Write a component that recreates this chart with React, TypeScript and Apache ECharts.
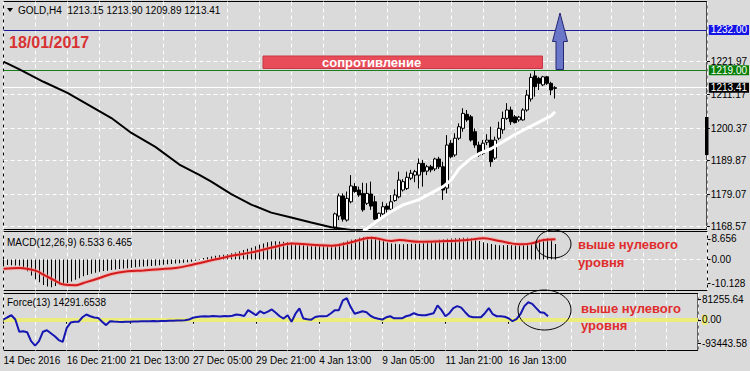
import React, { useEffect, useRef } from "react";
import * as echarts from "echarts";

// ---------- data ----------
const SLOT_COUNT = 177;
const categories = Array.from({ length: SLOT_COUNT }, (_, i) => String(i));
const dateLabels = ["14 Dec 2016", "16 Dec 21:00", "21 Dec 13:00", "27 Dec 05:00", "29 Dec 21:00", "4 Jan 13:00", "9 Jan 05:00", "11 Jan 21:00", "16 Jan 13:00"];
const LABEL_STEP = 16;
const GRID_STEP = 8;

const priceTicks = [1168.57, 1179.07, 1189.87, 1200.37, 1211.17, 1221.97];
const macdTicks = [8.656, 0, -10.128];
const macdTickText = ["8.656", "0.00", "-10.128"];
const forceTicks = [81255.64, 0, -93443.58];
const forceTickText = ["81255.64", "0.00", "-93443.58"];

const targetLevel = 1232.0;
const resistanceLevel = 1219.0;
const lastClose = 1213.41;

const firstCandle = 83;
const candleOpen = [1168.4, 1172.0, 1178.5, 1170.7, 1176.6, 1181.5, 1180.4, 1179.3, 1176.1, 1179.1, 1176.6, 1171.0, 1172.7, 1175.2, 1174.2, 1177.0, 1178.2, 1180.4, 1180.9, 1184.2, 1185.2, 1185.2, 1189.0, 1186.5, 1187.9, 1187.2, 1190.4, 1187.9, 1181.0, 1195.5, 1191.7, 1197.1, 1200.3, 1204.8, 1204.0, 1199.2, 1194.9, 1192.2, 1195.8, 1196.5, 1190.7, 1197.1, 1199.8, 1203.5, 1206.2, 1204.0, 1203.0, 1203.0, 1206.2, 1209.75, 1217.2, 1216.4, 1214.3, 1216.9, 1214.8, 1213.15];
const candleHigh = [1173.1, 1179.3, 1179.3, 1179.9, 1185.2, 1182.6, 1181.5, 1182.75, 1182.6, 1183.1, 1178.5, 1173.1, 1176.6, 1176.1, 1178.8, 1180.6, 1186.3, 1183.9, 1186.3, 1186.9, 1186.9, 1190.6, 1190.1, 1188.5, 1188.5, 1190.8, 1191.1, 1189.5, 1198.1, 1196.5, 1198.7, 1201.9, 1206.75, 1206.2, 1204.6, 1200.3, 1196.0, 1196.5, 1198.4, 1200.8, 1197.6, 1202.4, 1205.7, 1208.4, 1207.3, 1204.6, 1204.3, 1206.75, 1212.65, 1218.0, 1218.9, 1216.9, 1217.2, 1217.2, 1215.3, 1213.9];
const candleLow = [1167.8, 1170.7, 1170.2, 1170.2, 1176.1, 1179.5, 1178.2, 1173.4, 1175.6, 1174.0, 1170.7, 1170.7, 1172.3, 1173.1, 1173.4, 1176.6, 1177.7, 1179.9, 1180.4, 1183.6, 1182.9, 1180.9, 1181.5, 1185.2, 1186.1, 1186.5, 1187.2, 1177.2, 1179.3, 1190.6, 1191.1, 1196.5, 1199.2, 1202.4, 1196.0, 1194.0, 1191.1, 1191.7, 1194.9, 1187.9, 1190.1, 1196.5, 1198.5, 1203.0, 1201.4, 1201.9, 1202.4, 1202.75, 1205.65, 1208.9, 1210.5, 1212.65, 1213.9, 1214.3, 1211.0, 1209.89];
const candleClose = [1172.7, 1178.5, 1171.0, 1177.7, 1181.7, 1179.9, 1178.8, 1174.0, 1179.3, 1175.2, 1171.0, 1172.9, 1175.0, 1174.2, 1176.6, 1178.8, 1183.6, 1183.1, 1184.5, 1185.8, 1186.3, 1189.0, 1186.3, 1187.9, 1186.9, 1190.4, 1187.9, 1180.4, 1194.9, 1191.1, 1197.1, 1200.8, 1205.1, 1203.0, 1196.5, 1194.9, 1191.7, 1195.5, 1196.5, 1189.5, 1196.5, 1200.3, 1203.5, 1206.2, 1202.4, 1202.1, 1203.9, 1206.2, 1211.0, 1216.7, 1213.7, 1214.8, 1216.9, 1214.8, 1212.65, 1213.41];

const maSlow = [[0, 1221.8], [4, 1219.3], [10, 1215.3], [16, 1211.7], [22, 1207.3], [27, 1203.6], [32, 1198.8], [38, 1194.3], [44, 1188.6], [49, 1185.3], [52, 1183.1], [57, 1179.1], [62, 1175.7], [67, 1173.1], [72, 1171.5], [77, 1169.9], [82, 1168.4], [86, 1167.7], [90, 1167.0]];
const maFast = [[90, 1167.4], [91, 1168.0], [94, 1170.9], [97, 1173.5], [100, 1175.6], [104, 1177.3], [107, 1179.4], [110, 1181.5], [112, 1183.6], [114, 1187.3], [117, 1190.6], [119, 1192.1], [122, 1193.7], [125, 1196.0], [128, 1198.3], [131, 1200.3], [134, 1202.3], [137, 1204.3], [138, 1205.6]];

const macdMain = [
  -2.3, -2.3, -2.4, -2.5, -2.6, -3.5, -5.0, -6.8, -8.3, -9.6,
  -10.8, -11.4, -11.7, -11.2, -10.6, -10.2, -9.9, -9.3, -8.6, -7.9,
  -7.1, -6.5, -6.0, -5.6, -5.2, -4.9, -4.7, -4.4, -4.2, -4.0,
  -3.8, -3.7, -3.5, -3.3, -3.1, -3.0, -2.9, -2.7, -2.6, -2.4,
  -2.2, -2.0, -1.9, -1.7, -1.6, -1.4, -1.2, -0.9, -0.5, 0.2,
  0.6, 1.0, 1.3, 1.6, 1.8, 2.0, 2.2, 2.6, 3.0, 3.5,
  4.0, 4.5, 5.0, 5.6, 6.2, 6.8, 7.3, 7.6, 7.7, 7.6,
  7.5, 7.4, 7.3, 7.0, 6.6, 6.2, 5.9, 5.8, 5.8, 5.9,
  6.0, 6.1, 6.1, 6.3, 6.8, 7.4, 7.9, 8.3, 8.7, 9.2,
  9.5, 9.6, 9.6, 9.5, 9.2, 8.0, 7.2, 6.8, 6.6, 6.4,
  6.4, 6.5, 6.6, 6.7, 6.8, 7.0, 7.3, 7.6, 7.9, 8.3,
  8.6, 8.8, 8.9, 9.0, 9.1, 9.2, 9.2, 9.0, 8.5, 7.8,
  7.3, 6.9, 6.5, 6.2, 6.0, 6.0, 6.1, 6.1, 6.0, 6.0,
  6.2, 6.6, 7.2, 7.8, 8.4, 8.8, 9.0, 8.6, 6.53,
];
const macdSignal = [[0, -3.9], [4, -3.6], [8, -4.7], [10, -6.4], [13, -9.0], [15, -10.6], [18, -10.9], [20, -9.9], [24, -7.8], [27, -6.1], [31, -5.0], [35, -4.6], [39, -4.1], [43, -3.6], [47, -2.3], [56, 1.2], [62, 3.0], [68, 5.4], [72, 6.8], [78, 6.1], [82, 5.8], [87, 7.3], [92, 9.2], [97, 7.8], [99, 8.2], [104, 7.5], [111, 7.8], [116, 8.2], [120, 9.0], [124, 7.8], [129, 6.4], [132, 6.8], [135, 8.2], [138, 8.5]];

const force13 = [
  1200, 10000, 18000, 1200, -47000, -45000, -49000, -84000, -102000, -84000,
  -47000, -41000, -53000, -65000, -80000, -87000, -33000, -11000, -8000, -8000,
  10000, 21000, 14000, 9000, 7500, -8000, -21000, -5500, -7000, -8000,
  -8500, -8000, -7500, -7000, -6500, -6000, -6000, -5500, -5000, -5500,
  -5000, -4500, -4000, -3500, -3000, -2500, -2000, 1000, 8000, 11000,
  13000, 14000, 13000, 15000, 14000, 13000, 15000, 14000, 16000, 21000,
  19000, 15000, 38000, 28000, 18000, 34000, 25000, 32000, 41000, 28000,
  14000, 5000, 18000, -8000, 24000, 45000, 5000, 2400, 400, 11000,
  14000, 14000, 15000, 26000, 38000, 38000, 77000, 85000, 50000, 24000,
  29000, 34000, 30000, 16000, 8000, 4000, 1000, 10000, 14000, 6000,
  6000, 6000, 14000, 18000, 26000, 20000, 18000, 18000, 22000, 26000,
  57000, 38000, 14000, 26000, 46000, 54000, 48000, 30000, 14000, 10000,
  10000, 10000, 26000, 46000, 22000, 14000, 14000, 12000, 6000, -5500,
  2400, 22000, 54000, 69000, 63000, 46000, 30000, 28000, 14291.65,
];

// ---------- helpers ----------
const FONT = "'Liberation Sans', Arial, sans-serif";
const BG = "#dadada";
const labelInterval = (idx: number) => idx % LABEL_STEP === 0 && idx / LABEL_STEP < dateLabels.length;
const gridInterval = (idx: number) => idx % GRID_STEP === 0;
const dashed = { color: "#ffffff", type: [4, 3], width: 1 };

function xAxisFor(gridIndex: number, withLabels: boolean) {
  return {
    type: "category",
    gridIndex,
    data: categories,
    boundaryGap: false,
    axisLine: { show: false },
    axisTick: withLabels
      ? { show: true, interval: labelInterval, length: 4, lineStyle: { color: "#000" } }
      : { show: false },
    axisLabel: withLabels
      ? {
          show: true,
          interval: labelInterval,
          formatter: (_v: string, idx: number) => dateLabels[idx / LABEL_STEP] || "",
          align: "left",
          color: "#000",
          fontSize: 10,
          fontFamily: FONT,
          margin: 5,
        }
      : { show: false },
    splitLine: { show: true, interval: gridInterval, lineStyle: dashed },
  };
}

function buildOption() {
  const candleData = candleOpen.map((o, k) => [firstCandle + k, o, candleClose[k], candleLow[k], candleHigh[k]]);
  const levelLabel = (bg: string) => ({
    show: true,
    position: "end",
    distance: 2,
    backgroundColor: bg,
    color: "#fff",
    fontSize: 10,
    lineHeight: 10,
    fontFamily: FONT,
    padding: [0, 2, 0, 2],
  });
  const GL = 3.5;
  const GW = 704;

  return {
    animation: false,
    backgroundColor: BG,
    textStyle: { fontFamily: FONT },
    grid: [
      { left: GL, top: 1.5, width: GW, height: 228, show: true, borderColor: "#000", borderWidth: 1, backgroundColor: "transparent" },
      { left: GL, top: 231.5, width: GW, height: 59, show: true, borderColor: "#000", borderWidth: 1, backgroundColor: "transparent" },
      { left: GL, top: 293.5, width: GW, height: 57, show: true, borderColor: "#000", borderWidth: 1, backgroundColor: "transparent" },
    ],
    xAxis: [xAxisFor(0, false), xAxisFor(1, false), xAxisFor(2, true)],
    yAxis: [
      {
        type: "value", gridIndex: 0, position: "right", min: 1167.66, max: 1241.19,
        axisLine: { show: false }, splitLine: { show: false },
        axisTick: { show: true, customValues: priceTicks, length: 3, lineStyle: { color: "#000" } },
        axisLabel: { show: true, customValues: priceTicks, formatter: (v: number) => v.toFixed(2), color: "#000", fontSize: 10, fontFamily: FONT, margin: 4 },
      },
      {
        type: "value", gridIndex: 1, position: "right", min: -13.09, max: 11.82,
        axisLine: { show: false }, splitLine: { show: false },
        axisTick: { show: true, customValues: macdTicks, length: 3, lineStyle: { color: "#000" } },
        axisLabel: { show: true, customValues: macdTicks, formatter: (v: number) => macdTickText[macdTicks.indexOf(v)] ?? "", color: "#000", fontSize: 10, fontFamily: FONT, margin: 4 },
      },
      {
        type: "value", gridIndex: 2, position: "right", min: -121069, max: 103717,
        axisLine: { show: false }, splitLine: { show: false },
        axisTick: { show: true, customValues: forceTicks, length: 3, lineStyle: { color: "#000" } },
        axisLabel: {
          show: true, customValues: forceTicks,
          formatter: (v: number) => (v === 0 ? "{z|0}{n|.00}" : forceTickText[forceTicks.indexOf(v)] ?? ""),
          color: "#000", fontSize: 10, fontFamily: FONT, margin: 4,
          rich: { z: { backgroundColor: "#ecec70", color: "#000", fontSize: 10, fontFamily: FONT }, n: { color: "#000", fontSize: 10, fontFamily: FONT } },
        },
      },
    ],
    series: [
      {
        type: "candlestick",
        xAxisIndex: 0, yAxisIndex: 0,
        data: candleData,
        encode: { x: 0, y: [1, 2, 3, 4] },
        barWidth: 3,
        z: 2,
        itemStyle: { color: "#ffffff", color0: "#000000", borderColor: "#000000", borderColor0: "#000000", borderWidth: 1 },
        markLine: {
          silent: true, symbol: ["none", "none"], z: 1, animation: false,
          data: [
            ...priceTicks.map((v) => ({ yAxis: v, lineStyle: dashed, label: { show: false } })),
            { yAxis: targetLevel, lineStyle: { color: "#1c1c9c", width: 1, type: "solid" }, label: { ...levelLabel("#1414e6"), formatter: targetLevel.toFixed(2) } },
            { yAxis: resistanceLevel, lineStyle: { color: "#1a7d1a", width: 1, type: "solid" }, label: { ...levelLabel("#088008"), formatter: resistanceLevel.toFixed(2) } },
            { yAxis: lastClose, lineStyle: { color: "#ffffff", width: 1, type: "solid" }, label: { ...levelLabel("#000000"), formatter: lastClose.toFixed(2) } },
          ],
        },
      },
      { type: "line", xAxisIndex: 0, yAxisIndex: 0, data: maSlow, symbol: "none", z: 3, lineStyle: { color: "#000", width: 2 } },
      { type: "line", xAxisIndex: 0, yAxisIndex: 0, data: maFast, symbol: "none", z: 3, lineStyle: { color: "#ffffff", width: 3 } },
      {
        type: "bar", xAxisIndex: 1, yAxisIndex: 1, data: macdMain, barWidth: 1, z: 2,
        itemStyle: { color: "#000", borderWidth: 0 },
        markLine: { silent: true, symbol: ["none", "none"], z: 1, data: [{ yAxis: 0, lineStyle: dashed, label: { show: false } }] },
      },
      { type: "line", xAxisIndex: 1, yAxisIndex: 1, data: macdSignal, symbol: "none", smooth: 0.4, z: 3, lineStyle: { color: "rgba(255,150,150,0.55)", width: 4 } },
      { type: "line", xAxisIndex: 1, yAxisIndex: 1, data: macdSignal, symbol: "none", smooth: 0.4, z: 4, lineStyle: { color: "#d41a1a", width: 2 } },
      {
        type: "line", xAxisIndex: 2, yAxisIndex: 2, data: force13, symbol: "none", z: 3,
        lineStyle: { color: "#1616b0", width: 2 },
        markLine: { silent: true, symbol: ["none", "none"], z: 1, data: [{ yAxis: 0, lineStyle: { color: "#ecec7c", width: 4, type: "solid" }, label: { show: false } }] },
      },
    ],
    graphic: [
      { type: "polygon", z: 10, shape: { points: [[7, 8], [13, 8], [10, 12]] }, style: { fill: "#000" } },
      { type: "text", z: 10, x: 18, y: 10, style: { text: "GOLD,H4  1213.15 1213.90 1209.89 1213.41", fill: "#000", font: `10px ${FONT}`, verticalAlign: "middle" } },
      { type: "text", z: 10, x: 9, y: 42, style: { text: "18/01/2017", fill: "#d83232", font: `bold 16px ${FONT}`, verticalAlign: "middle" } },
      { type: "rect", z: 10, shape: { x: 263, y: 56, width: 279.5, height: 12.5 }, style: { fill: "#e84c58", stroke: "#c83846", lineWidth: 1 } },
      { type: "text", z: 11, x: 322, y: 62.5, style: { text: "сопротивление", fill: "#ffffff", font: `bold 13px ${FONT}`, verticalAlign: "middle" } },
      {
        type: "polygon", z: 10,
        shape: { points: [[560, 13], [567.5, 41.5], [563.5, 41.5], [563.5, 69.5], [556, 69.5], [556, 41.5], [552.5, 41.5]] },
        style: { fill: "#6a76c8", stroke: "#262673", lineWidth: 1 },
      },
      { type: "rect", z: 10, shape: { x: 705, y: 117, width: 3.5, height: 38 }, style: { fill: "#000" } },
      { type: "text", z: 10, x: 7, y: 242, style: { text: "MACD(12,26,9) 6.533 6.465", fill: "#000", font: `10px ${FONT}`, verticalAlign: "middle" } },
      { type: "text", z: 10, x: 7, y: 302.5, style: { text: "Force(13) 14291.6538", fill: "#000", font: `10px ${FONT}`, verticalAlign: "middle" } },
      { type: "ellipse", z: 10, shape: { cx: 553.5, cy: 244, rx: 17.5, ry: 14 }, style: { fill: "none", stroke: "#000", lineWidth: 1 } },
      { type: "ellipse", z: 10, shape: { cx: 544.5, cy: 310, rx: 26.5, ry: 20 }, style: { fill: "none", stroke: "#000", lineWidth: 1 } },
      { type: "text", z: 10, x: 578, y: 244, style: { text: "выше нулевого", fill: "#e02c2c", font: `bold 13px ${FONT}`, verticalAlign: "middle" } },
      { type: "text", z: 10, x: 578, y: 262, style: { text: "уровня", fill: "#e02c2c", font: `bold 13px ${FONT}`, verticalAlign: "middle" } },
      { type: "text", z: 10, x: 581, y: 308.5, style: { text: "выше нулевого", fill: "#e02c2c", font: `bold 13px ${FONT}`, verticalAlign: "middle" } },
      { type: "text", z: 10, x: 581, y: 325, style: { text: "уровня", fill: "#e02c2c", font: `bold 13px ${FONT}`, verticalAlign: "middle" } },
    ],
  };
}

export default function App() {
  const ref = useRef<HTMLDivElement>(null);
  useEffect(() => {
    if (!ref.current) return;
    const chart = echarts.init(ref.current, undefined, { renderer: "svg" });
    chart.setOption(buildOption() as any);
    return () => chart.dispose();
  }, []);
  return (
    <div
      ref={ref}
      style={{ position: "fixed", left: 0, top: 0, width: 750, height: 371, background: BG }}
    />
  );
}
